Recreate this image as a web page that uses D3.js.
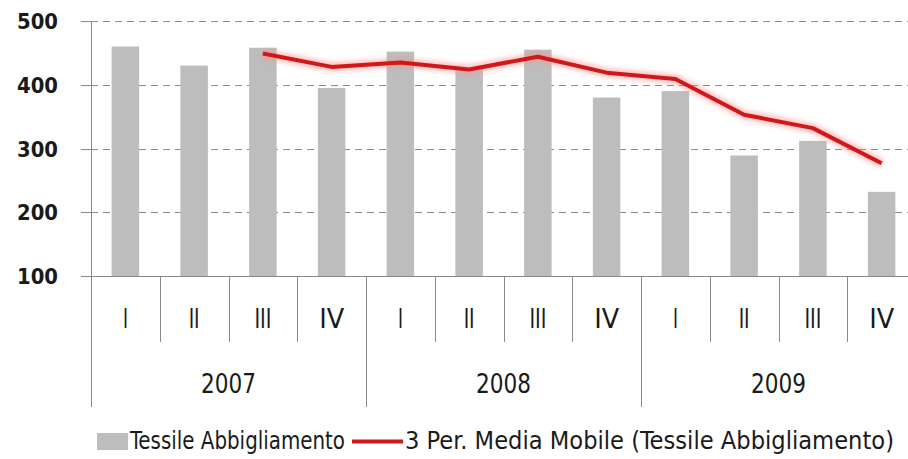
<!DOCTYPE html>
<html>
<head>
<meta charset="utf-8">
<script src="https://cdn.jsdelivr.net/npm/d3@7"></script>
<style>
    body { margin: 0; background: #fff; }
    text { font-family: "Liberation Sans Narrow", "DejaVu Sans Condensed", "Liberation Sans", sans-serif; fill: #1a1a1a; }
</style>
</head>
<body>
<div id="chart"></div>
<script>

// data
const years = ["2007", "2008", "2009"];
const quarters = ["I", "II", "III", "IV"];
const barValues = [460, 430, 458, 395, 452, 425, 455, 380, 390, 289, 312, 232];
const movingAvg = [null, null, 449, 428, 435, 424, 444, 419, 409, 353, 332, 277];
const yTicks = [100, 200, 300, 400, 500];
const legendLabels = ["Tessile Abbigliamento", "3 Per. Media Mobile (Tessile Abbigliamento)"];

class quarterChart {

    constructor(_parentElement) {
        this.parentElement = _parentElement;
        this.keys = [];
        years.forEach(y => quarters.forEach(q => this.keys.push(y + "-" + q)));
        this.initVis();
    }

    initVis() {
        let vis = this;

        vis.svg = d3.select("#" + vis.parentElement).append("svg")
            .attr("width", 908)
            .attr("height", 459);

        // plot runs a bit past the right edge, like the original
        vis.x = d3.scaleBand()
            .domain(vis.keys)
            .range([91, 916])
            .paddingInner(0.6)
            .paddingOuter(0.3);

        vis.y = d3.scaleLinear()
            .domain([100, 500])
            .range([276, 21]);

        vis.drawGrid();
        vis.drawBars();
        vis.drawLine();
        vis.drawAxes();
        vis.drawLegend();
    }

    drawGrid() {
        let vis = this;
        let g = vis.svg.append("g");

        g.selectAll(".grid")
            .data(yTicks.filter(d => d > 100))
            .enter().append("line")
            .attr("x1", 91).attr("x2", 908)
            .attr("y1", d => Math.round(vis.y(d)) + 0.5)
            .attr("y2", d => Math.round(vis.y(d)) + 0.5)
            .attr("stroke", "#8a8a8a")
            .attr("stroke-dasharray", "7,5");

        // small solid ticks left of the axis
        g.selectAll(".tick")
            .data(yTicks)
            .enter().append("line")
            .attr("x1", 81).attr("x2", 91)
            .attr("y1", d => Math.round(vis.y(d)) + 0.5)
            .attr("y2", d => Math.round(vis.y(d)) + 0.5)
            .attr("stroke", "#8a8a8a");

        g.selectAll(".ylab")
            .data(yTicks)
            .enter().append("text")
            .attr("x", 58)
            .attr("y", d => vis.y(d) + 8)
            .attr("text-anchor", "end")
            .attr("font-size", 22)
            .attr("font-weight", "bold")
            .attr("textLength", 41)
            .attr("lengthAdjust", "spacingAndGlyphs")
            .text(d => d);
    }

    drawBars() {
        let vis = this;
        vis.svg.append("g")
            .selectAll("rect")
            .data(barValues)
            .enter().append("rect")
            .attr("x", (d, i) => vis.x(vis.keys[i]))
            .attr("width", vis.x.bandwidth())
            .attr("y", d => vis.y(d))
            .attr("height", d => vis.y(100) - vis.y(d))
            .attr("fill", "#bdbdbd");
    }

    drawLine() {
        let vis = this;

        let defs = vis.svg.append("defs");
        defs.append("filter")
            .attr("id", "glow")
            .attr("x", "-10%").attr("y", "-50%")
            .attr("width", "120%").attr("height", "200%")
            .append("feGaussianBlur")
            .attr("stdDeviation", 2.5);

        let line = d3.line()
            .defined(d => d != null)
            .x((d, i) => vis.x(vis.keys[i]) + vis.x.bandwidth() / 2)
            .y(d => vis.y(d));

        vis.svg.append("path")
            .attr("d", line(movingAvg))
            .attr("fill", "none")
            .attr("stroke", "#ff8a8a")
            .attr("stroke-width", 9)
            .attr("opacity", 0.55)
            .attr("filter", "url(#glow)");

        vis.svg.append("path")
            .attr("d", line(movingAvg))
            .attr("fill", "none")
            .attr("stroke", "#d01818")
            .attr("stroke-width", 4)
            .attr("stroke-linejoin", "round");
    }

    drawAxes() {
        let vis = this;
        let g = vis.svg.append("g").attr("stroke", "#8a8a8a");
        let step = vis.x.step();
        let x0 = 91;

        // vertical axis
        g.append("line")
            .attr("x1", x0 + 0.5).attr("x2", x0 + 0.5)
            .attr("y1", 21).attr("y2", 276);

        // horizontal axis
        g.append("line")
            .attr("x1", 81).attr("x2", 908)
            .attr("y1", 276.5).attr("y2", 276.5);

        // quarter separators
        g.selectAll(".qsep")
            .data(d3.range(1, 12).filter(i => i % 4 !== 0))
            .enter().append("line")
            .attr("x1", i => Math.round(x0 + i * step) + 0.5)
            .attr("x2", i => Math.round(x0 + i * step) + 0.5)
            .attr("y1", 276).attr("y2", 342);

        // year separators
        g.selectAll(".ysep")
            .data(d3.range(0, 13, 4))
            .enter().append("line")
            .attr("x1", i => Math.round(x0 + i * step) + 0.5)
            .attr("x2", i => Math.round(x0 + i * step) + 0.5)
            .attr("y1", 276).attr("y2", 407);

        const qWidth = {"I": 5, "II": 11, "III": 17, "IV": 25};

        vis.svg.append("g")
            .selectAll("text")
            .data(vis.keys)
            .enter().append("text")
            .attr("x", d => vis.x(d) + vis.x.bandwidth() / 2)
            .attr("y", 328)
            .attr("text-anchor", "middle")
            .attr("font-size", 27)
            .attr("textLength", d => qWidth[d.split("-")[1]])
            .attr("lengthAdjust", "spacingAndGlyphs")
            .text(d => d.split("-")[1]);

        vis.svg.append("g")
            .selectAll("text")
            .data(years)
            .enter().append("text")
            .attr("x", (d, i) => x0 + (i * 4 + 2) * step)
            .attr("y", 393)
            .attr("text-anchor", "middle")
            .attr("font-size", 27)
            .attr("textLength", 55)
            .attr("lengthAdjust", "spacingAndGlyphs")
            .text(d => d);
    }

    drawLegend() {
        let vis = this;
        let g = vis.svg.append("g");

        g.append("rect")
            .attr("x", 97).attr("y", 433)
            .attr("width", 31).attr("height", 17)
            .attr("fill", "#bdbdbd");

        g.append("text")
            .attr("x", 130).attr("y", 449)
            .attr("font-size", 24)
            .attr("textLength", 215)
            .attr("lengthAdjust", "spacingAndGlyphs")
            .text(legendLabels[0]);

        g.append("line")
            .attr("x1", 352).attr("x2", 403)
            .attr("y1", 441.5).attr("y2", 441.5)
            .attr("stroke", "#d01818")
            .attr("stroke-width", 4);

        g.append("text")
            .attr("x", 405).attr("y", 449)
            .attr("font-size", 24)
            .attr("textLength", 489)
            .attr("lengthAdjust", "spacingAndGlyphs")
            .text(legendLabels[1]);
    }
}

new quarterChart("chart");

</script>
</body>
</html>
